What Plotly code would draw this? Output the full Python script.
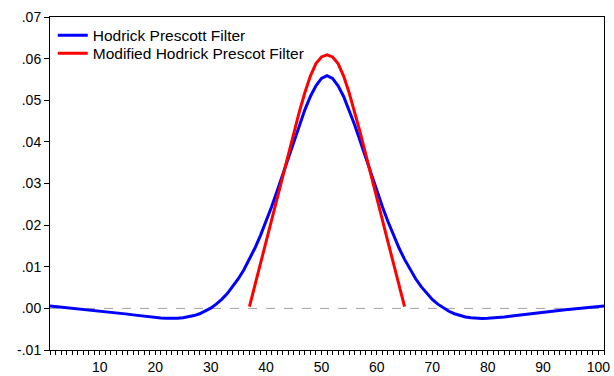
import plotly.graph_objects as go

# Observation index (1..101), weights centred on observation 51
obs = list(range(1, 102))

hp_weights = [
    0.00055, 0.00042, 0.00029, 0.00016, 0.00004, -0.00008, -0.00020, -0.00032, -0.00045, -0.00058,
    -0.00072, -0.00087, -0.00103, -0.00120, -0.00138, -0.00156, -0.00174, -0.00191, -0.00207, -0.00221,
    -0.00232, -0.00239, -0.00241, -0.00237, -0.00226, -0.00205, -0.00173, -0.00129, -0.00070, 0.00006,
    0.00101, 0.00216, 0.00356, 0.00523, 0.00712, 0.00930, 0.01176, 0.01450, 0.01754, 0.02086,
    0.02443, 0.02820, 0.03213, 0.03614, 0.04015, 0.04405, 0.04769, 0.05091, 0.05349, 0.05524,
    0.05590,
    0.05524, 0.05349, 0.05091, 0.04769, 0.04405, 0.04015, 0.03614, 0.03213, 0.02820, 0.02443,
    0.02086, 0.01754, 0.01450, 0.01176, 0.00930, 0.00712, 0.00523, 0.00356, 0.00216, 0.00101,
    0.00006, -0.00070, -0.00129, -0.00173, -0.00205, -0.00226, -0.00237, -0.00241, -0.00239, -0.00232,
    -0.00221, -0.00207, -0.00191, -0.00174, -0.00156, -0.00138, -0.00120, -0.00103, -0.00087, -0.00072,
    -0.00058, -0.00045, -0.00032, -0.00020, -0.00008, 0.00004, 0.00016, 0.00029, 0.00042, 0.00055,
]

mod_obs = list(range(37, 66))
mod_weights = [
    0.0004, 0.0056, 0.0108, 0.0160, 0.0212, 0.0264, 0.0316, 0.0370, 0.0422, 0.0472,
    0.0518, 0.0558, 0.0588, 0.0604, 0.0609, 0.0604, 0.0588, 0.0558, 0.0518, 0.0472,
    0.0422, 0.0370, 0.0316, 0.0264, 0.0212, 0.0160, 0.0108, 0.0056, 0.0004,
]

y_ticks = [-0.01, 0.00, 0.01, 0.02, 0.03, 0.04, 0.05, 0.06, 0.07]
y_tick_labels = ["-.01", ".00", ".01", ".02", ".03", ".04", ".05", ".06", ".07"]
x_ticks = [10, 20, 30, 40, 50, 60, 70, 80, 90, 100]

FONT = "Liberation Sans, Arial, Helvetica, sans-serif"

fig = go.Figure()
fig.add_trace(go.Scatter(
    x=obs, y=hp_weights, mode="lines", name="Hodrick Prescott Filter",
    line=dict(color="#0000FF", width=3), legend="legend",
))
fig.add_trace(go.Scatter(
    x=mod_obs, y=mod_weights, mode="lines", name="Modified Hodrick Prescot Filter",
    line=dict(color="#FF0000", width=3), legend="legend2",
))

# dashed reference line at zero
fig.add_shape(type="line", xref="paper", x0=0, x1=1, yref="y", y0=0, y1=0,
              line=dict(color="#A0A0A0", width=1, dash="dash"), layer="below")

legend_style = dict(x=0.005, xanchor="left", yanchor="top",
                    bgcolor="rgba(0,0,0,0)", font=dict(size=15.5), itemwidth=30)

fig.update_layout(
    width=614, height=376,
    margin=dict(l=50, r=10, t=17, b=26),
    paper_bgcolor="white", plot_bgcolor="white",
    font=dict(family=FONT, size=14, color="black"),
    showlegend=True,
    legend=dict(y=0.995, **legend_style),
    legend2=dict(y=0.941, **legend_style),
    xaxis=dict(
        range=[1, 101], tickvals=x_ticks, ticks="outside", ticklen=4, tickcolor="black",
        showline=True, linecolor="black", linewidth=1, mirror=True,
        showgrid=False, zeroline=False, automargin=False,
        minor=dict(ticks="outside", ticklen=4, dtick=1, tick0=0, tickcolor="black", showgrid=False),
        tickfont=dict(size=14),
    ),
    yaxis=dict(
        range=[-0.01, 0.07], tickvals=y_ticks, ticktext=y_tick_labels,
        ticks="outside", ticklen=5, tickcolor="black",
        showline=True, linecolor="black", linewidth=1, mirror=True,
        showgrid=False, zeroline=False, automargin=False, tickfont=dict(size=14),
    ),
)

fig.write_html("out.html")
